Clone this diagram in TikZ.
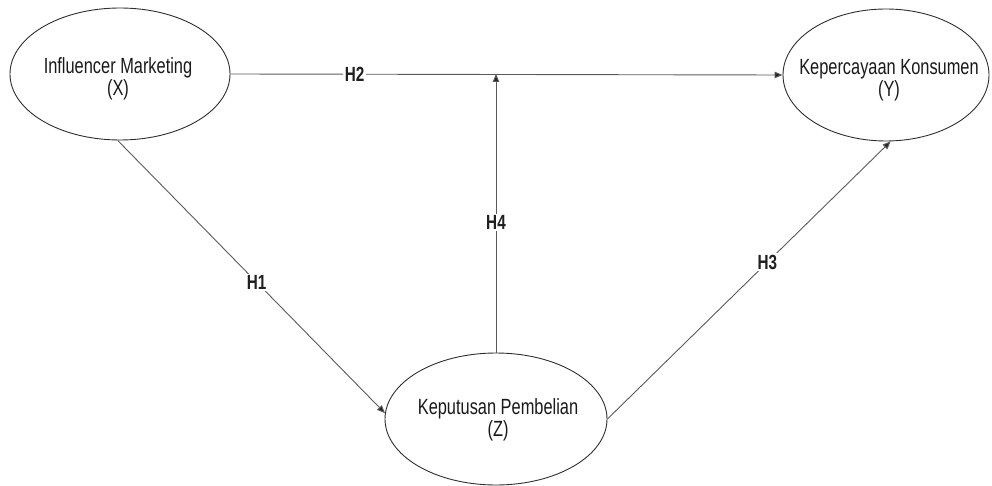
\documentclass[tikz,border=0pt]{standalone}
\usepackage{fontspec}
\setmainfont{Liberation Sans}
\newfontfamily\narrowfont[FakeStretch=0.745]{Liberation Sans}
\usetikzlibrary{shapes.geometric,arrows.meta}
\definecolor{inkgray}{HTML}{2E2E2E}
\definecolor{linegray}{HTML}{5A5A5A}
\tikzset{
  construct/.style={ellipse, draw=inkgray, line width=0.9pt, inner sep=0pt},
  caption/.style={align=center, inner sep=0pt, text=black!90,
    font=\narrowfont\fontsize{22}{20.5}\selectfont},
  path/.style={draw=linegray, line width=0.9pt,
    -{Triangle[length=8pt,width=6.5pt,fill=black!85]}},
  hyp/.style={fill=white, inner sep=1.5pt, text=black!88,
    font=\narrowfont\fontsize{20.5}{20}\selectfont\bfseries}
}
\begin{document}
\begin{tikzpicture}[x=1pt,y=-1pt]
  \useasboundingbox (0,0) rectangle (992,486);

  % the three constructs
  \node[construct, minimum width=220pt, minimum height=132pt] (X) at (120,74) {};
  \node[construct, minimum width=206pt, minimum height=132pt] (Y) at (886,75) {};
  \node[construct, minimum width=222pt, minimum height=132pt] (Z) at (496,419) {};

  \node[caption] (Xt) at (118,79) {Influencer Marketing\\(X)};
  \node[caption] (Yt) at (889,80) {Kepercayaan Konsumen\\(Y)};
  \node[caption] (Zt) at (498,420) {Keputusan Pembelian\\(Z)};

  % junction of the moderating path on the X -> Y line
  \coordinate (J) at (Z.north |- X.east);

  \draw[path] (X.east) -- node[hyp, pos=0.225] (h2) {H2} (Y.west);
  \draw[path] (X.268) -- node[hyp, pos=0.52] (h1) {H1} (Z.177);
  \draw[path] (Z.east) -- node[hyp, pos=0.565] (h3) {H3} (Y.274);
  \draw[path] (Z.north) -- node[hyp, pos=0.466] (h4) {H4} (J);
\end{tikzpicture}
\end{document}
